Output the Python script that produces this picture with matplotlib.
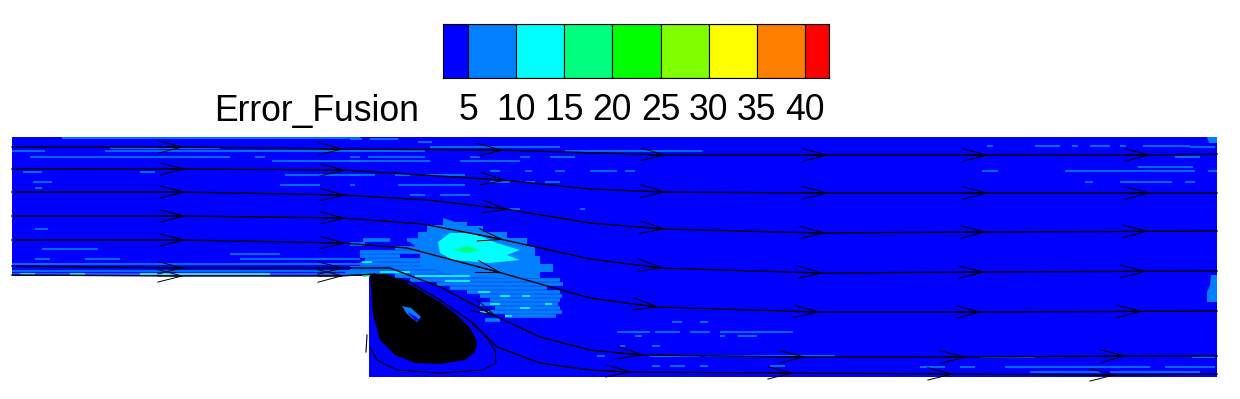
import numpy as np
import matplotlib
matplotlib.use('Agg')
import matplotlib.pyplot as plt
from matplotlib.patches import Polygon

plt.rcParams['font.family'] = ['Liberation Sans', 'DejaVu Sans']

# colorbar
legend_title = 'Error_Fusion'
level_edges = [2.4, 5, 10, 15, 20, 25, 30, 35, 40, 42.5]
level_colors = ['#0000ff', '#007fff', '#00ffff', '#00ff7f', '#00ff00',
                '#7fff00', '#ffff00', '#ff7f00', '#ff0000']
level_ticks = [5, 10, 15, 20, 25, 30, 35, 40]

# flow domain outline
domain_x = [12, 1217, 1217, 369, 369, 12]
domain_y = [137, 137, 377, 377, 276, 276]

# streamlines
s1_x = [12, 180, 340, 500, 663, 825, 985, 1147, 1217]
s1_y = [147, 147, 149, 150, 155, 155, 155, 155, 154]
s2_x = [12, 182, 342, 503, 590, 663, 825, 985, 1217]
s2_y = [169, 169, 170, 180, 189, 192, 193, 193, 193]
s3_x = [12, 182, 342, 427, 505, 590, 662, 822, 983, 1217]
s3_y = [192, 192, 195, 200, 209, 223, 229, 233, 232, 231]
s4_x = [12, 182, 342, 423, 500, 590, 660, 820, 981, 1217]
s4_y = [216, 216, 218, 224, 239, 259, 268, 273, 272, 271]
s5_x = [12, 182, 342, 407, 498, 590, 655, 816, 978, 1217]
s5_y = [240, 240, 243, 248, 272, 298, 307, 312, 312, 311]
s6_x = [12, 182, 342, 390, 440, 493, 540, 590, 640, 802, 963, 1123, 1217]
s6_y = [266, 268, 268, 268, 287, 315, 337, 350, 355, 357, 357, 356, 356]
s7_x = [12, 180, 340, 375, 410, 440, 473, 497, 540, 590, 628, 790, 950, 1112, 1217]
s7_y = [275, 276, 276, 274, 282, 300, 323, 347, 363, 370, 372, 373, 374, 375, 374]
streamlines = [(s1_x, s1_y), (s2_x, s2_y), (s3_x, s3_y), (s4_x, s4_y),
               (s5_x, s5_y), (s6_x, s6_y), (s7_x, s7_y)]
arrow_tips = [[180, 340, 500, 663, 825, 985, 1147],
              [182, 342, 503, 663, 825, 985, 1147],
              [182, 342, 505, 662, 822, 983, 1145],
              [182, 342, 500, 660, 820, 981, 1143],
              [182, 342, 498, 655, 816, 978, 1139],
              [180, 340, 493, 640, 802, 963, 1123],
              [180, 340, 628, 790, 950, 1112]]
loop_x = [370, 377, 397, 440, 483, 496, 495, 483, 473]
loop_y = [347, 360, 370, 373, 370, 363, 350, 333, 325]
stub_x = [367, 366]
stub_y = [335, 352]

# error zones
zone_5_10 = [(407, 240), (418, 240), (418, 232), (427, 232), (427, 225), (443, 225), (443, 218),
             (455, 222), (467, 222), (467, 226), (483, 226), (483, 232), (507, 232), (507, 238),
             (527, 238), (527, 246), (535, 246), (535, 256), (540, 256), (540, 264), (553, 264),
             (553, 272), (540, 272), (540, 278), (500, 278), (460, 276), (420, 266), (420, 250)]
zone_10_15 = [(438, 242), (450, 233), (473, 233), (497, 243), (520, 250), (507, 255),
              (520, 260), (490, 263), (453, 260), (440, 253)]
zone_15_20 = [(453, 250), (467, 246), (480, 250), (467, 253)]
tip_15_20 = [(360, 272), (367, 270), (372, 276), (363, 277)]
tip2_15_20 = [(393, 272), (405, 271), (410, 275), (396, 276)]
right_patch = [(1211, 275), (1217, 275), (1217, 302), (1207, 302), (1207, 292), (1210, 285)]
corner_patch = [(1207, 137), (1217, 137), (1217, 143), (1209, 143)]
vortex = [(370, 275), (383, 273), (400, 279), (420, 290), (440, 302), (457, 315), (470, 328),
          (477, 341), (475, 352), (465, 360), (440, 364), (415, 363), (395, 355), (380, 340),
          (373, 315)]
vortex_eye = [(402, 306), (411, 308), (421, 317), (417, 322), (407, 314)]
vortex_eye_core = [(407, 312), (415, 316), (420, 320), (416, 321)]

# streaks of error 5-10: x start, x end, y
streaks_left = [(62, 360, 138), (110, 220, 148), (12, 45, 151), (105, 360, 151), (30, 230, 157),
                (255, 265, 157), (272, 360, 161), (23, 42, 172), (140, 155, 172), (285, 360, 175),
                (33, 52, 182), (280, 320, 185), (35, 42, 188), (35, 48, 229), (42, 98, 249),
                (230, 280, 254), (35, 50, 259), (85, 120, 259), (240, 360, 259), (12, 360, 264),
                (12, 360, 271), (12, 360, 274)]
streaks_mid = [(350, 362, 139), (370, 398, 139), (418, 432, 142), (430, 560, 147), (350, 425, 151),
               (565, 702, 151), (350, 360, 157), (368, 425, 157), (470, 480, 157), (520, 530, 157),
               (550, 575, 157), (350, 430, 161), (460, 520, 161), (490, 500, 171), (525, 532, 171),
               (555, 565, 171), (590, 617, 171), (625, 635, 171), (350, 375, 175), (395, 410, 175),
               (425, 465, 175), (490, 510, 182), (525, 535, 182), (545, 560, 182), (350, 355, 185),
               (398, 465, 185), (410, 425, 195), (440, 470, 195), (510, 520, 209), (580, 585, 209)]
streaks_low = [(672, 682, 322), (700, 708, 322), (617, 650, 332), (655, 680, 332), (690, 710, 332),
               (720, 793, 332), (635, 642, 336), (720, 725, 336), (738, 757, 336), (620, 625, 346),
               (652, 660, 346), (597, 605, 356), (650, 700, 356), (705, 835, 356), (652, 660, 366),
               (670, 685, 366), (700, 708, 366), (770, 785, 366), (980, 1035, 357), (1192, 1215, 357),
               (920, 945, 367), (960, 975, 367), (1005, 1150, 367), (1165, 1215, 367),
               (1030, 1100, 372), (1110, 1200, 372)]
streaks_right = [(987, 993, 146), (1035, 1060, 146), (1072, 1078, 146), (1090, 1110, 146),
                 (1120, 1126, 146), (1143, 1190, 146), (1190, 1215, 147), (1175, 1200, 157),
                 (1138, 1193, 167), (982, 998, 171), (1065, 1195, 171), (1208, 1217, 171),
                 (1085, 1093, 182), (1120, 1172, 182), (1185, 1195, 182)]

# wake rows of the same level round the shear layer
wake_rows = [(363, 390, 240), (407, 420, 240), (350, 365, 244), (395, 420, 248), (360, 420, 252),
             (360, 400, 256), (365, 430, 260), (360, 445, 264), (350, 440, 268), (345, 460, 272),
             (395, 520, 276), (410, 560, 280), (437, 563, 284), (450, 547, 288), (467, 560, 292),
             (480, 562, 296), (490, 560, 300), (480, 558, 304), (495, 560, 308), (490, 562, 312),
             (505, 556, 316), (485, 500, 320)]

# cyan bits along the shear layer and step edge
cyan_rows = [(20, 35, 274), (70, 85, 274), (140, 270, 274), (380, 410, 272), (415, 470, 276),
             (362, 372, 262), (445, 470, 281), (478, 490, 292), (500, 510, 296), (522, 530, 296),
             (490, 500, 304), (520, 530, 308), (480, 490, 312), (505, 512, 316), (545, 552, 304)]

fig = plt.figure(figsize=(12.4, 3.99), dpi=100)
ax = fig.add_axes([0, 0, 1, 1])
ax.set_xlim(0, 1240)
ax.set_ylim(399, 0)
ax.axis('off')

ax.add_patch(Polygon(list(zip(domain_x, domain_y)), closed=True, fc=level_colors[0], ec='none'))
for zone in [zone_5_10, right_patch, corner_patch]:
    ax.add_patch(Polygon(zone, closed=True, fc=level_colors[1], ec='none'))

for rows in [streaks_left, streaks_mid, streaks_low, streaks_right]:
    r = np.array(rows)
    ax.hlines(r[:, 2], r[:, 0], r[:, 1], color=level_colors[1], lw=1.2)
r = np.array(wake_rows)
ax.hlines(r[:, 2], r[:, 0], r[:, 1], color=level_colors[1], lw=2.6)

ax.add_patch(Polygon(zone_10_15, closed=True, fc=level_colors[2], ec='none'))
ax.add_patch(Polygon(zone_15_20, closed=True, fc=level_colors[3], ec='none'))
r = np.array(cyan_rows)
ax.hlines(r[:, 2], r[:, 0], r[:, 1], color=level_colors[2], lw=1.3)
ax.add_patch(Polygon(tip_15_20, closed=True, fc=level_colors[3], ec='none'))
ax.add_patch(Polygon(tip2_15_20, closed=True, fc=level_colors[3], ec='none'))

# recirculation bubble, lines so dense they read as solid black
ax.add_patch(Polygon(vortex, closed=True, fc='black', ec='none'))
ax.add_patch(Polygon(vortex_eye, closed=True, fc=level_colors[1], ec='none'))
ax.add_patch(Polygon(vortex_eye_core, closed=True, fc=level_colors[0], ec='none'))
ax.plot(loop_x, loop_y, color='black', lw=0.8)
ax.plot(stub_x, stub_y, color='black', lw=0.8)

# arrow heads come out about 4 px short of xy
for (xs, ys), tips in zip(streamlines, arrow_tips):
    ax.plot(xs, ys, color='black', lw=1.0)
    for tip in tips:
        ax.annotate('', xy=(tip + 4, np.interp(tip + 4, xs, ys)),
                    xytext=(tip - 22, np.interp(tip - 22, xs, ys)),
                    arrowprops=dict(arrowstyle='->,head_length=1.75,head_width=0.45',
                                    mutation_scale=10, lw=0.7, color='black',
                                    shrinkA=0, shrinkB=0))

# colorbar axes sits at 443-829 px, 24-78 px from the top
cax = fig.add_axes([443 / 1240, 1 - 78 / 399, 386 / 1240, 54 / 399])
cax.bar(level_edges[:-1], 1, width=np.diff(level_edges), align='edge', color=level_colors,
        edgecolor='black', linewidth=0.8)
cax.set_xlim(level_edges[0], level_edges[-1])
cax.set_ylim(0, 1)
cax.set_yticks([])
cax.set_xticks(level_ticks)
cax.set_xticklabels([str(t) for t in level_ticks], fontsize=25.6)
cax.tick_params(axis='x', length=0, pad=11)
for sp in cax.spines.values():
    sp.set_linewidth(0.8)

ax.text(214, 121, legend_title, fontsize=25.6, ha='left', va='baseline')

fig.savefig('out.png', dpi=100)
